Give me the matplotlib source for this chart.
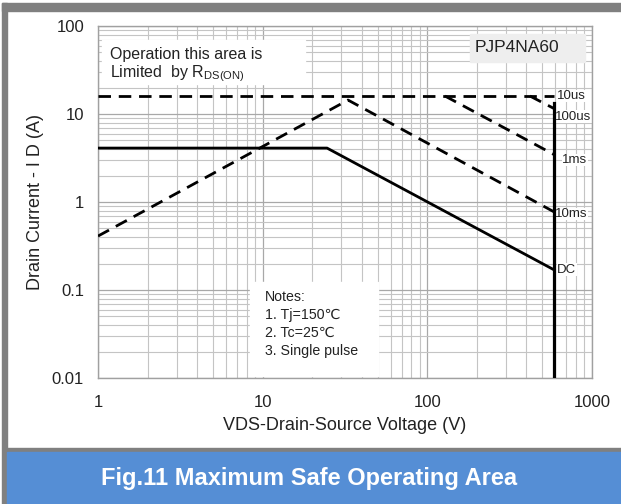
import matplotlib
matplotlib.use("Agg")
import matplotlib.pyplot as plt
from matplotlib.patches import Rectangle
from matplotlib.ticker import LogLocator, FixedLocator, NullFormatter

plt.rcParams['font.family'] = ['Liberation Sans', 'DejaVu Sans']
plt.rcParams['mathtext.fontset'] = 'custom'
plt.rcParams['mathtext.rm'] = 'Liberation Sans'

# ---- data ----
v_10us = [1, 590]
i_10us = [16, 16]
v_100us = [420, 590]
i_100us = [16, 11.5]
v_1ms = [128, 590]
i_1ms = [16, 3.45]
v_10ms = [1, 33, 590]
i_10ms = [0.41, 14.4, 0.77]
v_dc = [1, 24.6, 590]
i_dc = [4.1, 4.1, 0.169]
v_limit = [590, 590]
i_limit = [0.01, 13.3]

curve_labels = ["10us", "100us", "1ms", "10ms", "DC"]
label_pos_v = [615, 598, 660, 598, 615]
label_pos_i = [16, 9.3, 3.0, 0.73, 0.17]

x_ticks = [1, 10, 100, 1000]
x_ticklabels = ["1", "10", "100", "1000"]
y_ticks = [0.01, 0.1, 1, 10, 100]
y_ticklabels = ["0.01", "0.1", "1", "10", "100"]

W, H = 621, 504
fig = plt.figure(figsize=(W / 100, H / 100), dpi=100)

# frame and title bar (in figure pixel coordinates)
def fr(x0, y0, w, h, color):
    fig.patches.append(Rectangle((x0 / W, 1 - (y0 + h) / H), w / W, h / H,
                                 transform=fig.transFigure, color=color, zorder=0))

fr(2, 3, W - 2, 8, '#808080')     # top bar
fr(2, 3, 5, H - 3, '#808080')     # left bar
fr(7, 448, W - 7, 4, '#808080')   # line above blue bar
fr(7, 452, W - 7, H - 452, '#558ED5')
fig.text(309 / W, 1 - 478 / H, "Fig.11 Maximum Safe Operating Area", color='white',
         fontsize=17, fontweight='bold', ha='center', va='center')

ax = fig.add_axes([98 / W, 1 - 378 / H, 494 / W, 352 / H])
ax.set_xscale('log')
ax.set_yscale('log')
ax.set_xlim(1, 1000)
ax.set_ylim(0.01, 100)

ax.xaxis.set_major_locator(FixedLocator(x_ticks))
ax.set_xticklabels(x_ticklabels)
ax.yaxis.set_major_locator(FixedLocator(y_ticks))
ax.set_yticklabels(y_ticklabels)
ax.xaxis.set_minor_locator(LogLocator(base=10, subs=range(2, 10)))
ax.yaxis.set_minor_locator(LogLocator(base=10, subs=range(2, 10)))
ax.xaxis.set_minor_formatter(NullFormatter())
ax.yaxis.set_minor_formatter(NullFormatter())
ax.tick_params(which='both', length=0, labelsize=12, colors='#222222')
ax.tick_params(axis='x', pad=12)
ax.tick_params(axis='y', pad=10)
ax.grid(True, which='major', color='#a8a8a8', lw=0.9)
ax.grid(True, which='minor', color='#c4c4c4', lw=0.8)
for s in ax.spines.values():
    s.set_color('#a0a0a0')
    s.set_linewidth(1.0)

dash = (0, (4.5, 2.8))
lw = 2.0
ax.plot(v_10us, i_10us, color='black', lw=lw, linestyle=dash, zorder=3)
ax.plot(v_100us, i_100us, color='black', lw=lw, linestyle=dash, zorder=3)
ax.plot(v_1ms, i_1ms, color='black', lw=lw, linestyle=dash, zorder=3)
ax.plot(v_10ms, i_10ms, color='black', lw=lw, linestyle=dash, zorder=3)
ax.plot(v_dc, i_dc, color='black', lw=lw, zorder=3)
ax.plot(v_limit, i_limit, color='black', lw=2.3, zorder=3)

for lab, xv, yv in zip(curve_labels, label_pos_v, label_pos_i):
    ax.text(xv, yv, lab, fontsize=9.5, ha='left', va='center', color='#222222',
            zorder=2.5, bbox=dict(facecolor='white', edgecolor='none', pad=0.3))

ax.set_xlabel("VDS-Drain-Source Voltage (V)", fontsize=13, color='#222222', labelpad=5)
ax.set_ylabel("Drain Current - I D (A)", fontsize=13, color='#222222', labelpad=6)

# annotation boxes (axes fraction coordinates)
def axbox(x0, y0, x1, y1, color):
    ax.add_patch(Rectangle(((x0 - 98) / 494, (378 - y1) / 352), (x1 - x0) / 494,
                           (y1 - y0) / 352, transform=ax.transAxes, color=color,
                           zorder=2))

axbox(102, 40, 305, 84, 'white')
ax.text((110 - 98) / 494, (378 - 55) / 352, "Operation this area is", transform=ax.transAxes,
        fontsize=11.5, va='center', ha='left', color='#222222', zorder=4)
ax.text((110 - 98) / 494, (378 - 74) / 352, r"Limited  by R$_{\mathrm{DS(ON)}}$",
        transform=ax.transAxes, fontsize=11.5, va='center', ha='left', color='#222222', zorder=4)

axbox(470, 34, 585, 62, '#eeeeee')
ax.text((475 - 98) / 494, (378 - 48) / 352, "PJP4NA60", transform=ax.transAxes,
        fontsize=12.5, va='center', ha='left', color='#222222', zorder=4)

axbox(250, 282, 378, 376, 'white')
notes = ["Notes:", "1. Tj=150\u2103", "2. Tc=25\u2103", "3. Single pulse"]
for k, line in enumerate(notes):
    ax.text((265 - 98) / 494, (378 - (297 + 18 * k)) / 352, line, transform=ax.transAxes,
            fontsize=10.2, va='center', ha='left', color='#222222', zorder=4)

fig.savefig("out.png", dpi=100, facecolor='white')
